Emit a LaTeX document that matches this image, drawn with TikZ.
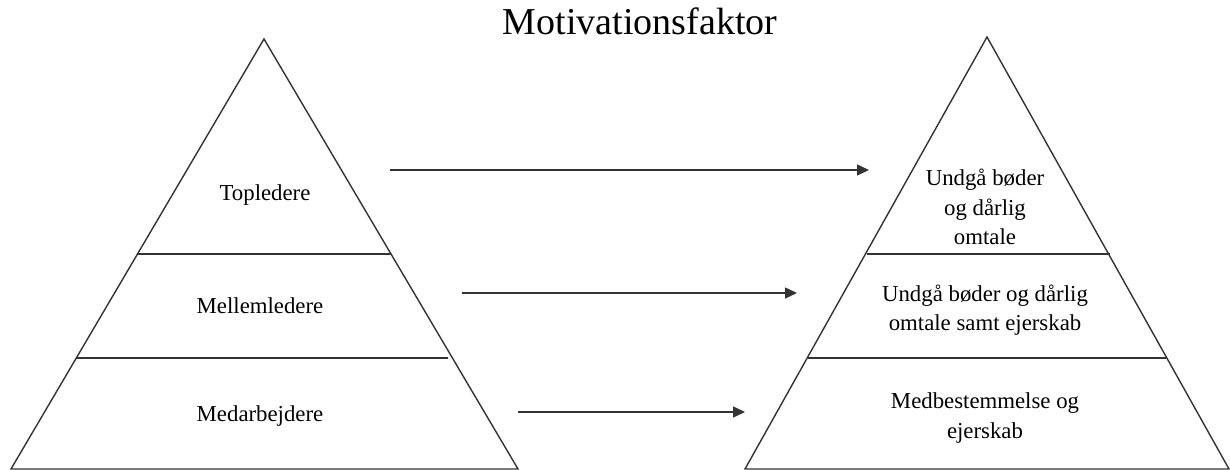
\documentclass[tikz,border=0pt]{standalone}
\usepackage{fontspec}
\setmainfont{Liberation Serif}
\usetikzlibrary{arrows.meta}
\begin{document}
\begin{tikzpicture}[x=0.5pt,y=-0.5pt,
  edge/.style={line width=0.7pt,draw=black!80},
  conn/.style={line width=0.7pt,draw=black!80,-{Triangle[length=6pt,width=5.5pt]}},
  lbl/.style={font=\fontsize{11.4}{14.6}\selectfont,align=center,inner sep=0pt}]
\useasboundingbox (0,0) rectangle (1230,470);
% title
\node[font=\fontsize{19}{22}\selectfont,inner sep=0pt] (title) at (640,21) {Motivationsfaktor};
% left pyramid
\coordinate (LA) at (264,39);
\coordinate (LB) at (11,469);
\coordinate (LC) at (518,469);
\draw[edge] (LB) -- (LA) -- (LC) -- cycle;
\coordinate (L1a) at (138,254); \coordinate (L1b) at (391,254);
\coordinate (L2a) at (76,358); \coordinate (L2b) at (448,358);
\draw[edge] (L1a) -- (L1b);
\draw[edge] (L2a) -- (L2b);
% right pyramid
\coordinate (RA) at (987,37);
\coordinate (RB) at (745,469);
\coordinate (RC) at (1229,469);
\draw[edge] (RB) -- (RA) -- (RC) -- cycle;
\coordinate (R1a) at (867,254); \coordinate (R1b) at (1110,254);
\coordinate (R2a) at (808,358); \coordinate (R2b) at (1166,358);
\draw[edge] (R1a) -- (R1b);
\draw[edge] (R2a) -- (R2b);
% labels
\node[lbl] (top) at (265,195) {Topledere};
\node[lbl] (mid) at (260,306) {Mellemledere};
\node[lbl] (bot) at (260,416) {Medarbejdere};
\node[lbl] (rtop) at (985,207) {Undgå bøder\\og dårlig\\omtale};
\node[lbl] (rmid) at (985,310) {Undgå bøder og dårlig\\omtale samt ejerskab};
\node[lbl] (rbot) at (985,418) {Medbestemmelse og\\ejerskab};
% arrows
\coordinate (a1s) at (390,170); \coordinate (a1e) at (869,170);
\coordinate (a2s) at (462,293); \coordinate (a2e) at (797,293);
\coordinate (a3s) at (518,412); \coordinate (a3e) at (745,412);
\draw[conn] (a1s) -- (a1e);
\draw[conn] (a2s) -- (a2e);
\draw[conn] (a3s) -- (a3e);
\end{tikzpicture}
\end{document}
